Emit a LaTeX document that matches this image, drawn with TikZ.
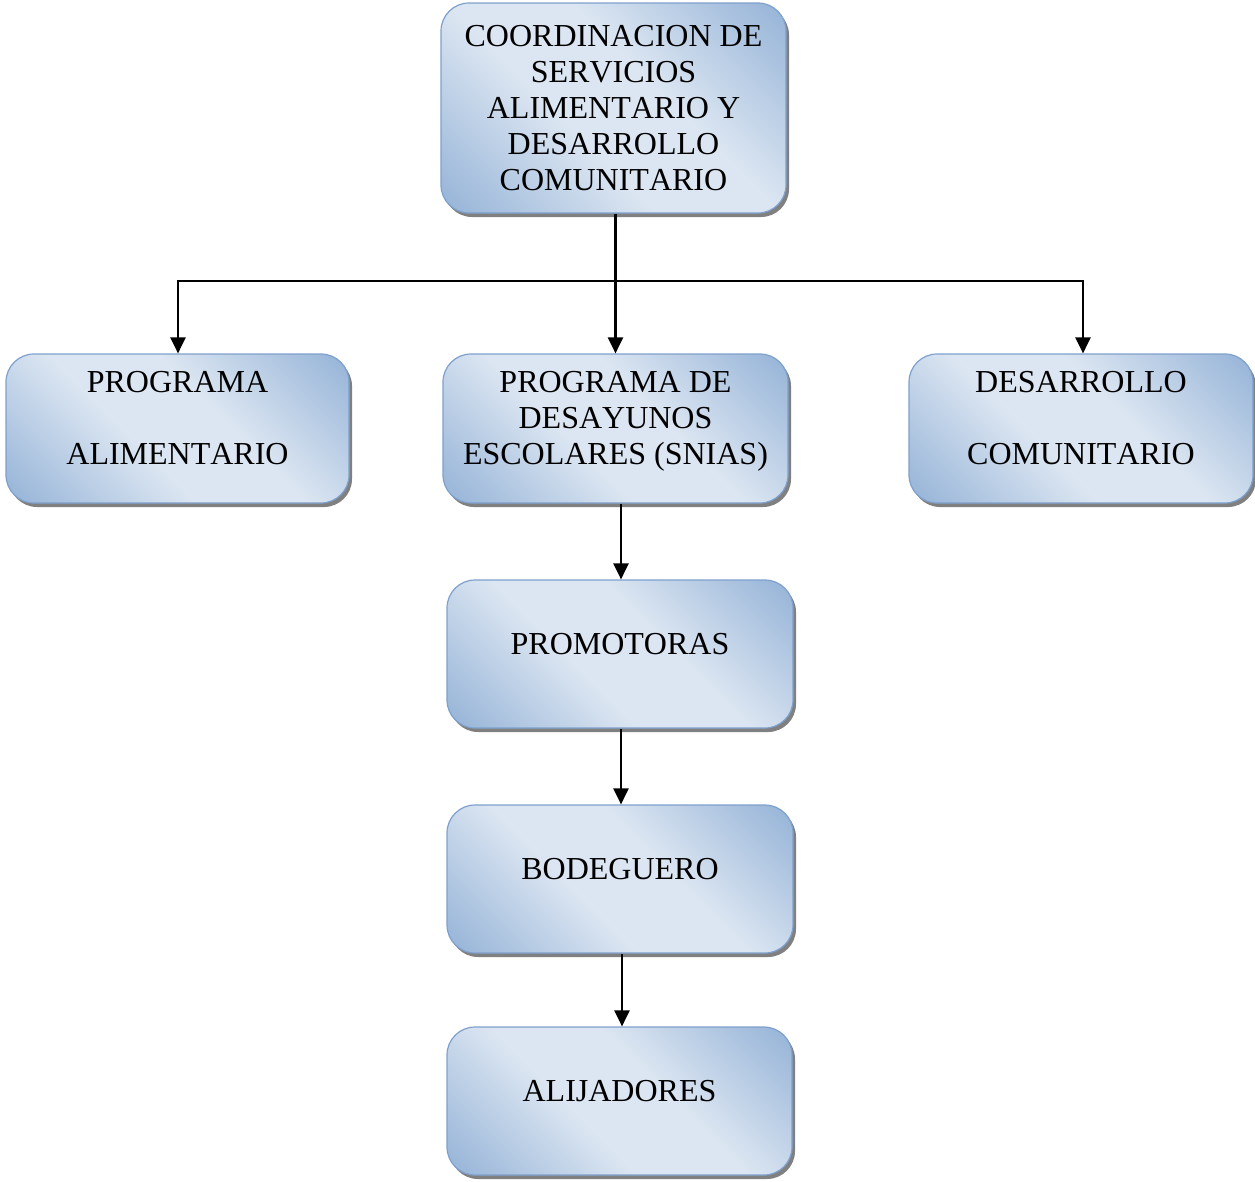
\documentclass[tikz,border=0pt]{standalone}
\usepackage{fontspec}
\setmainfont{Liberation Serif}[Kerning=Off]
\usetikzlibrary{arrows.meta,shadows,calc}
\definecolor{bdark}{RGB}{149,179,215}
\definecolor{blight}{RGB}{220,230,242}
\definecolor{bline}{RGB}{126,160,205}
\definecolor{bshadow}{RGB}{128,128,128}
\pgfdeclareverticalshading{boxshade}{100bp}{color(0bp)=(bdark); color(15bp)=(bdark); color(42bp)=(blight); color(58bp)=(blight); color(85bp)=(bdark); color(100bp)=(bdark)}
\tikzset{
  orgbox/.style={rectangle, rounded corners=28pt, draw=bline, line width=1.2pt,
    shading=boxshade, shading angle=-45,
    drop shadow={shadow xshift=3pt, shadow yshift=-4pt, fill=bshadow, opacity=1},
    inner sep=0pt},
  boxtext/.style={anchor=north, align=center, inner sep=0pt, font=\fontsize{32}{36}\selectfont},
  link/.style={line width=2.3pt, -{Triangle[width=15pt,length=16pt]}},
}
\begin{document}
\begin{tikzpicture}[x=1pt,y=1pt]
\useasboundingbox (0,0) rectangle (1255,-1181);
% boxes
\node[orgbox, minimum width=345pt, minimum height=210pt] (top) at (613.5,-108) {};
\node[orgbox, minimum width=343pt, minimum height=149pt] (left) at (177.5,-428.5) {};
\node[orgbox, minimum width=345pt, minimum height=149pt] (mid) at (615.5,-428.5) {};
\node[orgbox, minimum width=344pt, minimum height=149pt] (right) at (1081,-428.5) {};
\node[orgbox, minimum width=346pt, minimum height=148pt] (prom) at (620,-654) {};
\node[orgbox, minimum width=346pt, minimum height=148pt] (bod) at (620,-879) {};
\node[orgbox, minimum width=345pt, minimum height=148pt] (ali) at (619.5,-1101) {};
% texts
\node[boxtext] (ttop) at ([yshift=-18.5pt]top.north) {\strut COORDINACION DE\\SERVICIOS\\ALIMENTARIO Y\\DESARROLLO\\COMUNITARIO};
\node[boxtext] (tleft) at ([yshift=-14.1pt]left.north) {\strut PROGRAMA\\[36pt]ALIMENTARIO};
\node[boxtext] (tmid) at ([yshift=-14.1pt]mid.north) {\strut PROGRAMA DE\\DESAYUNOS\\ESCOLARES (SNIAS)};
\node[boxtext] (tright) at ([yshift=-14.1pt]right.north) {\strut DESARROLLO\\[36pt]COMUNITARIO};
\node[boxtext] (tprom) at ([yshift=-49.8pt]prom.north) {\strut PROMOTORAS};
\node[boxtext] (tbod) at ([yshift=-49.8pt]bod.north) {\strut BODEGUERO};
\node[boxtext] (tali) at ([yshift=-49.8pt]ali.north) {\strut ALIJADORES};
% connectors
\coordinate (bus) at (615,-281);
\coordinate (busL) at ([xshift=0.5pt]left.north |- bus);
\coordinate (busR) at ([xshift=2pt]right.north |- bus);
\draw[link] (mid.north |- top.south) -- (mid.north);
\draw[link] (busR) -- (busL) -- (busL |- left.north);
\draw[link] (busL) -- (busR) -- (busR |- right.north);
\draw[link] ([xshift=1pt]prom.north |- mid.south) -- ([xshift=1pt]prom.north);
\draw[link] ([xshift=1pt]prom.south) -- ([xshift=1pt]bod.north);
\draw[link] ([xshift=2pt]bod.south) -- ([xshift=2pt]bod.south |- ali.north);
\end{tikzpicture}
\end{document}
